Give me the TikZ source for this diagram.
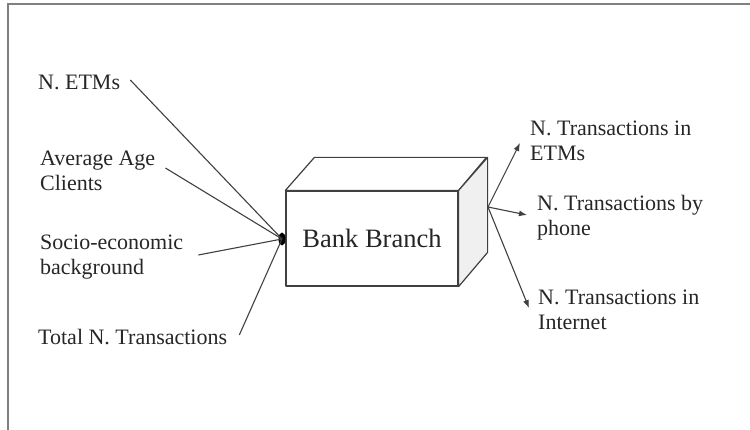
\documentclass[tikz,border=0pt]{standalone}
\usepackage{fontspec}
\setmainfont{Liberation Serif}
\usetikzlibrary{arrows.meta,calc,shapes.geometric}
\begin{document}
\begin{tikzpicture}[x=1pt,y=-1pt,
  lab/.style={inner sep=0pt,anchor=west,align=left,text=black!85,font=\fontsize{22}{25}\selectfont},
  conn/.style={draw=black!75,line width=1.1pt},
  arr/.style={conn,-{Latex[length=8pt,width=6pt]}},
  boxline/.style={draw=black!75,line width=1.2pt,line join=round}]
\useasboundingbox (0,0) rectangle (750,430);
% frame
\draw[black!50,line width=1.5pt] (8,430) -- (8,4) -- (750,4);
% box
\node[boxline,fill=white,minimum width=172pt,minimum height=95pt,inner sep=0pt,
  font=\fontsize{26.5}{30}\selectfont,text=black!85] (bank) at (372,238.5) {Bank Branch};
\draw[boxline,fill=white] (bank.north west) -- ++(29,-33) -- ++(172,0) -- (bank.north east) -- cycle;
\draw[boxline,fill=black!6] (bank.north east) -- ++(29,-33) -- ++(0,95) -- (bank.south east) -- cycle;
% left labels
\node[lab] (etm) at (38,82) {N. ETMs};
\node[lab] (avg) at (40,170.5) {Average Age\\Clients};
\node[lab] (soc) at (40,257.5) {Socio-economic\\background};
\node[lab] (tot) at (38,337) {Total N. Transactions};
% dot
\node[fill=black,ellipse,inner sep=0pt,minimum width=7pt,minimum height=13pt] (dot) at (282,239) {};
\draw[conn] ($(etm.east)+(10,-2)$) -- (dot.center);
\draw[conn] ($(avg.east)+(10,-2.5)$) -- (dot.center);
\draw[conn] ($(soc.east)+(15,-2.5)$) -- (dot.center);
\draw[conn] ($(tot.east)+(12,-2)$) -- (dot.center);
% right labels
\node[lab] (etmR) at (530,140.5) {N. Transactions in\\ETMs};
\node[lab] (phoneR) at (537,217.5) {N. Transactions by\\phone};
\node[lab] (intR) at (538,310) {N. Transactions in\\Internet};
\coordinate (conv) at (488,207);
\draw[arr] (conv) -- ($(etmR.west)+(-10,2.5)$);
\draw[arr] (conv) -- ($(phoneR.west)+(-10,-2.5)$);
\draw[arr] (conv) -- ($(intR.west)+(-9,-2)$);
\end{tikzpicture}
\end{document}
